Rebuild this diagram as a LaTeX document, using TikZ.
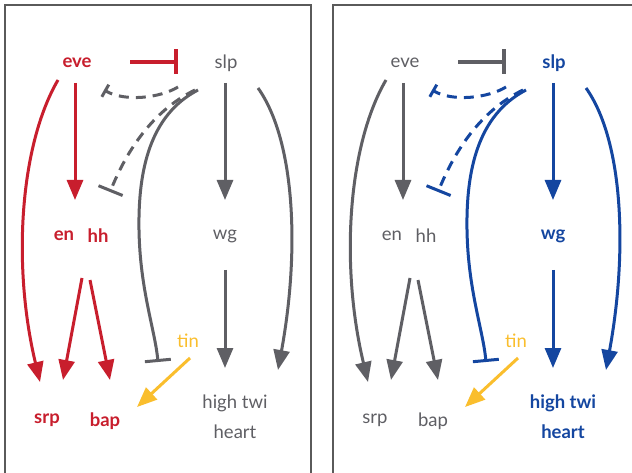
\documentclass[tikz,border=0pt]{standalone}
\usepackage{fontspec}
\setmainfont{Lato}
\usetikzlibrary{arrows.meta,calc}
\definecolor{cred}{RGB}{200,30,45}
\definecolor{cgray}{RGB}{95,95,100}
\definecolor{cblue}{RGB}{20,70,160}
\definecolor{cyel}{RGB}{250,190,45}
\definecolor{cbox}{RGB}{90,90,90}
\tikzset{
  lbl/.style={font=\fontsize{18.5}{20}\selectfont, inner sep=1pt},
  conn/.style={line width=3pt},
  act/.style={conn,-{Triangle[length=20pt,width=16pt]}},
  inh/.style={conn,-{Bar[width=#1]}},
  dsh/.style={dash pattern=on 10pt off 7pt},
  frame/.style={cbox,line width=1.4pt},
}
% #1 prefix, #2 x offset, #3 eve colour, #4 slp colour, #5 eve weight, #6 slp weight
\newcommand\genepanel[6]{%
  \node[lbl,text=#3] (#1eve) at (#2+77,63) {#5eve};
  \node[lbl,text=#4] (#1slp) at (#2+226,63) {#6slp};
  \node[lbl,text=#3] (#1en) at (#2+64,236) {#5en};
  \node[lbl,text=#3] (#1hh) at (#2+98,236) {#5hh};
  \node[lbl,text=#4] (#1wg) at (#2+225,236) {#6wg};
  \node[lbl,text=cyel] (#1tin) at (#2+188,341) {tin};
  \node[lbl,text=#3] (#1srp) at (#2+47,420) {#5srp};
  \node[lbl,text=#3] (#1bap) at (#2+105,421) {#5bap};
  \node[lbl,text=#4] (#1high) at (#2+235,403) {#6high twi};
  \node[lbl,text=#4] (#1heart) at (#2+235,432) {#6heart};
  % eve group
  \draw[inh=25pt,#3,line width=3.6pt] ($(#1eve)+(53,-1)$) -- ($(#1slp)+(-48,-1)$);
  \draw[act,#3] ($(#1eve)+(-2,20)$) -- ($(#1en)+(11,-36)$);
  \draw[act,#3] ($(#1eve)+(-19,17)$) .. controls (#2+20,145) and (#2+12,265) .. ($(#1srp)+(-7,-38)$);
  \draw[act,#3] ($(#1en)+(18,42)$) -- ($(#1srp)+(16,-40)$);
  \draw[act,#3] ($(#1hh)+(-8,44)$) -- ($(#1bap)+(5,-41)$);
  % slp group
  \draw[act,#4] ($(#1slp)+(-1,20)$) -- ($(#1wg)+(0,-36)$);
  \draw[act,#4] ($(#1wg)+(0,34)$) -- ($(#1high)+(-10,-35)$);
  \draw[act,#4] ($(#1slp)+(32,25)$) .. controls (#2+295,140) and (#2+300,250) .. ($(#1high)+(43,-33)$);
  \draw[inh=26pt,#4] ($(#1slp)+(-28,27)$) .. controls (#2+150,115) and (#2+138,170) .. (#2+139,230)
      .. controls (#2+140,290) and (#2+155,330) .. ($(#1tin)+(-30,21)$);
  \draw[inh=14pt,dsh,#4] ($(#1slp)+(-48,24)$) .. controls (#2+160,98) and (#2+125,102) .. ($(#1eve)+(27,27)$);
  \draw[inh=26pt,dsh,#4] ($(#1slp)+(-31,27)$) .. controls (#2+150,112) and (#2+125,155) .. ($(#1hh)+(12,-44)$);
  % tin
  \draw[act,cyel] ($(#1tin)+(2,17)$) -- ($(#1bap)+(32,-14)$);
}
\begin{document}
\begin{tikzpicture}[x=1pt,y=-1pt]
  \useasboundingbox (0,0) rectangle (632,473);
  \fill[white] (0,0) rectangle (632,473);
  \draw[frame] (5,475) -- (5,5) -- (311,5) -- (311,475);
  \draw[frame] (333,475) -- (333,5) -- (634,5);
  \genepanel{L}{0}{cred}{cgray}{\bfseries}{\mdseries}
  \genepanel{R}{328}{cgray}{cblue}{\mdseries}{\bfseries}
\end{tikzpicture}
\end{document}
